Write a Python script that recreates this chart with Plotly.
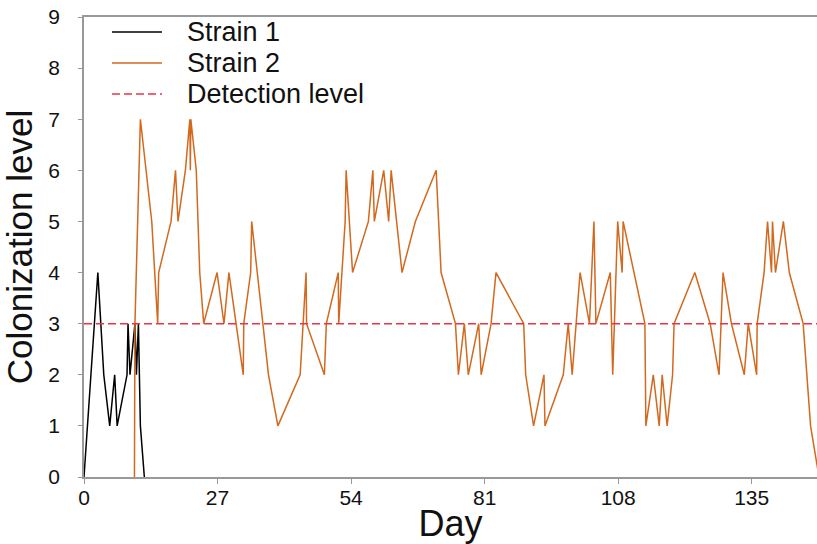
import plotly.graph_objects as go

strain1_day = [0, 2.8, 4.0, 5.2, 6.2, 6.7, 8.7, 8.9, 9.3, 10.3, 10.6, 11.0, 11.4, 12.2]
strain1_level = [0, 4, 2, 1, 2, 1, 2, 3, 2, 3, 2, 3, 1, 0]

strain2_day = [10.2, 10.3, 11.4, 13.7, 14.9, 15.1, 17.6, 18.5, 19.0, 20.5, 21.4, 21.5, 21.6, 22.7,
               23.4, 24.2, 26.9, 28.3, 29.3, 32.2, 32.3, 33.7, 33.9, 37.3, 39.2, 43.7, 44.9, 45.0,
               48.6, 49.0, 51.4, 51.5, 52.8, 53.0, 54.3, 57.5, 58.4, 58.7, 60.6, 61.6, 62.1, 64.3,
               67.0, 71.2, 72.2, 75.1, 75.7, 76.9, 77.7, 79.8, 80.3, 82.3, 83.3, 88.9, 89.3, 90.9,
               93.0, 93.2, 96.9, 97.9, 98.7, 100.3, 102.2, 103.1, 103.5, 106.4, 106.9, 107.9, 108.8,
               109.0, 113.4, 113.6, 115.1, 116.3, 116.9, 117.9, 119.0, 119.3, 123.5, 126.6, 128.4,
               129.2, 130.9, 133.5, 134.3, 136.0, 136.1, 137.5, 138.2, 139.0, 139.2, 139.8, 141.4,
               142.6, 145.4, 146.1, 146.9, 148.6]
strain2_level = [0, 3, 7, 5, 3, 4, 5, 6, 5, 6, 7, 6, 7, 6,
                 4, 3, 4, 3, 4, 2, 3, 4, 5, 2, 1, 2, 4, 3,
                 2, 3, 4, 3, 5, 6, 4, 5, 6, 5, 6, 5, 6, 4,
                 5, 6, 4, 3, 2, 3, 2, 3, 2, 3, 4, 3, 2, 1,
                 2, 1, 2, 3, 2, 4, 3, 5, 3, 4, 2, 5, 4,
                 5, 3, 1, 2, 1, 2, 1, 2, 3, 4, 3, 2,
                 4, 3, 2, 3, 2, 3, 4, 5, 4, 5, 4, 5,
                 4, 3, 2, 1, 0]

detection_day = [0, 148.2]
detection_level = [3, 3]

x_ticks = [0, 27, 54, 81, 108, 135]
y_ticks = list(range(0, 10))

series_names = ["Strain 1", "Strain 2", "Detection level"]
series_colors = ["#000000", "#D2691E", "#EE3344"]
series_dash = ["solid", "solid", "8px,4px"]

fig = go.Figure()
fig.add_trace(go.Scatter(x=strain1_day, y=strain1_level, mode="lines", name=series_names[0],
                         line=dict(color=series_colors[0], width=1.5), showlegend=False))
fig.add_trace(go.Scatter(x=strain2_day, y=strain2_level, mode="lines", name=series_names[1],
                         line=dict(color=series_colors[1], width=1.5), showlegend=False))
fig.add_trace(go.Scatter(x=detection_day, y=detection_level, mode="lines", name=series_names[2],
                         line=dict(color=series_colors[2], width=1.5, dash=series_dash[2]),
                         showlegend=False))

# Manual legend (paper coords of plot area: x from 84px, width 733px; y from bottom 477px, height 460px)
W, H, L, B = 733.0, 460.0, 84.0, 477.0
row_px = [32, 63, 94]
for name, color, dash, ry in zip(series_names, series_colors, series_dash, row_px):
    yp = (B - ry) / H
    fig.add_shape(type="line", xref="paper", yref="paper",
                  x0=(112 - L) / W, x1=(162 - L) / W, y0=yp, y1=yp,
                  line=dict(color=color, width=1.5, dash=dash))
    fig.add_annotation(xref="paper", yref="paper", x=(185 - L) / W, y=yp, text=name,
                       showarrow=False, xanchor="left", yanchor="middle",
                       font=dict(size=27, color="#111111"))

font_family = "Liberation Sans, Arial, sans-serif"
fig.update_layout(
    width=817, height=544,
    margin=dict(l=84, r=0, t=17, b=67, autoexpand=False),
    plot_bgcolor="white", paper_bgcolor="white",
    font=dict(family=font_family, color="#111111"),
    showlegend=False,
    xaxis=dict(range=[0, 148.2], tickvals=x_ticks, ticktext=[str(t) for t in x_ticks],
               showgrid=False, zeroline=False, showline=True, linecolor="#999999", linewidth=1.5,
               mirror=True, ticks="outside", ticklen=5, tickcolor="#999999", automargin=False,
               ticklabelstandoff=-4,
               tickfont=dict(size=21), title=dict(text="Day", font=dict(size=36), standoff=0)),
    yaxis=dict(range=[0, 9], tickvals=y_ticks, showgrid=False, zeroline=False, showline=True,
               mirror=False, automargin=False, ticklabelstandoff=14,
               linecolor="#999999", linewidth=1.5, ticks="outside", ticklen=4, tickcolor="#999999",
               tickfont=dict(size=21), title=dict(text="Colonization level", font=dict(size=35), standoff=10)),
)

fig.write_html("out.html", config={"displayModeBar": False},
               post_script="document.body.style.margin='0px';document.body.style.overflow='hidden';")
